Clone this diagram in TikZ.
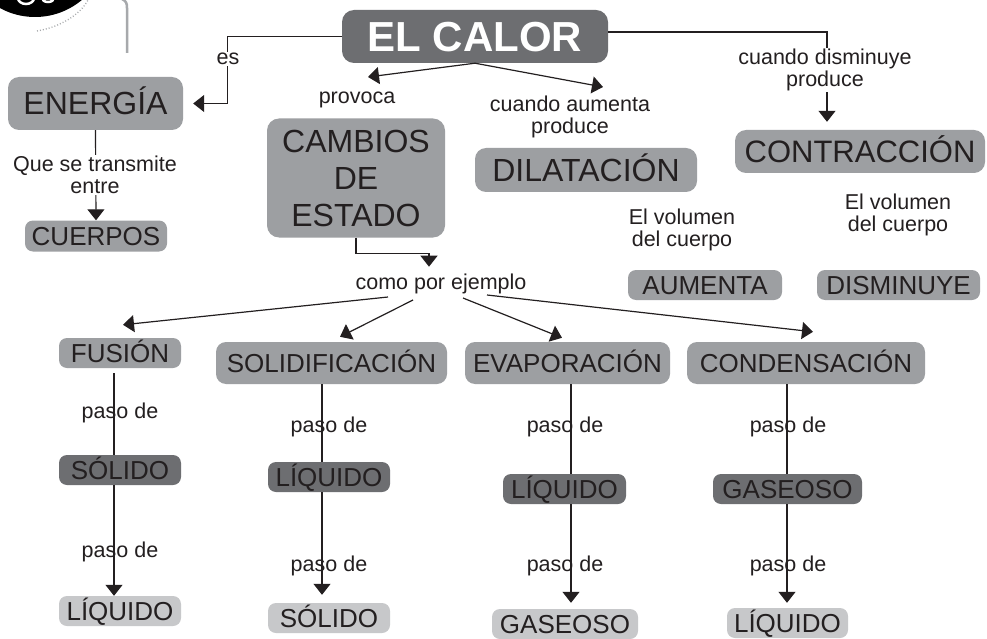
\documentclass[tikz,border=0pt]{standalone}
\usepackage{fontspec}
\setmainfont{Liberation Sans}
\usetikzlibrary{arrows.meta,calc}
\definecolor{ink}{HTML}{231F20}
\definecolor{midg}{HTML}{9D9FA2}
\definecolor{darkg}{HTML}{6D6E71}
\definecolor{lightg}{HTML}{C7C8CA}
\definecolor{decog}{HTML}{A7A9AC}
\begin{document}
\begin{tikzpicture}[x=1pt,y=-1pt,
  box/.style={fill=midg, rounded corners=8pt, inner sep=0pt, text=ink, align=center},
  bigbox/.style={box, rounded corners=11pt, font=\fontsize{32}{37}\selectfont, text height=23pt, text depth=0pt},
  smallbox/.style={box, font=\fontsize{26}{30}\selectfont, text height=19pt, text depth=0pt, minimum height=30pt},
  midbox/.style={smallbox, rounded corners=10pt, minimum height=42pt},
  darkbox/.style={smallbox, fill=darkg},
  lightbox/.style={smallbox, fill=lightg},
  conn/.style={draw=ink, line width=1.2pt},
  arr/.style={conn, -{Triangle[length=11pt,width=17pt]}},
  lab/.style={text=ink, font=\fontsize{21.5}{22}\selectfont, align=center, inner sep=1pt},
  wlab/.style={lab, fill=white}
]
\useasboundingbox (0,0) rectangle (987,639);
\fill[white] (0,0) rectangle (987,639);

% decoration in the top-left corner
\begin{scope}
  \clip (0,0) rectangle (987,639);
  \fill[black] (35,-56) circle (73);
  \draw[white, line width=2.5pt] (26,-2) ellipse (8 and 6);
  \draw[white, line width=2.5pt] (48,-2) ellipse (6 and 4);
  \draw[decog, line width=1.3pt, dash pattern=on 1pt off 2pt] (37,31) .. controls (60,27) and (80,15) .. (88,0);
  \draw[decog, line width=2.5pt] (122,-1) .. controls (126,1) and (127,3) .. (127,8) -- (127,53);
\end{scope}

% main nodes
\node[box, fill=darkg, text=white, rounded corners=12pt, font=\fontsize{42}{42}\selectfont\bfseries,
      text height=30pt, text depth=0pt, minimum width=266pt, minimum height=53pt] (calor) at (475,36.5) {EL CALOR};
\node[bigbox, minimum width=175pt, minimum height=53pt] (energia) at (95.5,103.5) {ENERGÍA};
\node[smallbox, minimum width=142pt, minimum height=31pt] (cuerpos) at (96,236) {CUERPOS};
\node[box, rounded corners=12pt, font=\fontsize{32}{37}\selectfont, minimum width=178pt, minimum height=119pt] (cambios) at (356,178) {CAMBIOS\\DE\\ESTADO};
\node[bigbox, minimum width=222pt, minimum height=44pt] (dilat) at (586,170) {DILATACIÓN};
\node[bigbox, font=\fontsize{31}{36}\selectfont, minimum width=250pt, minimum height=43pt] (contr) at (860,151.5) {CONTRACCIÓN};
\node[smallbox, minimum width=154pt] (aumenta) at (705,285) {AUMENTA};
\node[smallbox, minimum width=163pt] (dismin) at (898.5,285) {DISMINUYE};

% second level
\node[smallbox, minimum width=122pt] (fus) at (120,353) {FUSIÓN};
\node[midbox, minimum width=231pt] (solid) at (331.5,363) {SOLIDIFICACIÓN};
\node[midbox, minimum width=205pt] (evap) at (567.5,363) {EVAPORACIÓN};
\node[midbox, minimum width=238pt] (cond) at (806,363) {CONDENSACIÓN};

\node[darkbox, minimum width=122pt] (solA) at (120,470) {SÓLIDO};
\node[lightbox, minimum width=122pt] (liqA) at (120,611) {LÍQUIDO};
\node[darkbox, minimum width=122pt] (liqB) at (329,477) {LÍQUIDO};
\node[lightbox, minimum width=122pt] (solB) at (329,618) {SÓLIDO};
\node[darkbox, minimum width=123pt] (liqC) at (564.5,489) {LÍQUIDO};
\node[lightbox, minimum width=146pt] (gasC) at (565,624) {GASEOSO};
\node[darkbox, minimum width=149pt] (gasD) at (787.5,489) {GASEOSO};
\node[lightbox, minimum width=121pt] (liqD) at (787.5,623) {LÍQUIDO};

% coordinates for columns and arrow ends
\coordinate (colA) at (114,0);
\coordinate (colB) at (322,0);
\coordinate (colC) at (571,0);
\coordinate (colD) at (787,0);
\coordinate (tprov) at (368,77);
\coordinate (tdil) at (603,87);

% top connectors
\draw[arr, shorten >=10pt] (calor.west) -- ++(-114,0) |- (energia.east);
\node[wlab] (es) at (228,59) {es};
\draw[arr] (energia.south) -- (cuerpos.north);
\node[wlab] (transm) at (95,175) {Que se transmite\\entre};
\draw[arr] (calor.south) -- (tprov);
\draw[arr] (calor.south) -- (tdil);
\node[lab] (provoca) at (357,100) {provoca};
\node[lab] (aumlab) at (570,116.5) {cuando aumenta\\produce};
\draw[arr, shorten >=8pt] ([yshift=4.5pt]calor.east) -| ([xshift=-33pt]contr.north);
\node[wlab] (dislab) at (825,70) {cuando disminuye\\produce};
\node[lab] (vol1) at (682,229.5) {El volumen\\del cuerpo};
\node[lab] (vol2) at (898,215) {El volumen\\del cuerpo};

% cambios de estado
\draw[arr] (cambios.south) |- ++(73,16) -- ++(0,13);
\node[lab] (como) at (441,284) {como por ejemplo};
\draw[arr] ($(como)+(-53,13)$) -- ($(fus.north)+(3,-13)$);
\draw[arr] ($(como)+(-28,16)$) -- ($(solid.north)+(8.5,-5)$);
\draw[arr] ($(como)+(22,14)$) -- ($(evap.north)+(-5.5,-4)$);
\draw[arr] ($(como)+(46,11)$) -- ($(cond.north)+(7,-10)$);

% columns
\draw[conn, shorten <=5pt] (fus.south -| colA) -- (solA.north -| colA);
\draw[arr] (solA.south -| colA) -- (liqA.north -| colA);
\node[lab] (pA1) at (120,413) {paso de};
\node[lab] (pA2) at (120,552) {paso de};

\draw[conn] (solid.south -| colB) -- (liqB.north -| colB);
\draw[arr, shorten >=8pt] (liqB.south -| colB) -- (solB.north -| colB);
\node[lab] (pB1) at (329,427) {paso de};
\node[lab] (pB2) at (329,566) {paso de};

\draw[conn] (evap.south -| colC) -- (liqC.north -| colC);
\draw[arr, shorten >=6pt] (liqC.south -| colC) -- (gasC.north -| colC);
\node[lab] (pC1) at (565,427) {paso de};
\node[lab] (pC2) at (565,566) {paso de};

\draw[conn] (cond.south -| colD) -- (gasD.north -| colD);
\draw[arr, shorten >=5pt] (gasD.south -| colD) -- (liqD.north -| colD);
\node[lab] (pD1) at (788,427) {paso de};
\node[lab] (pD2) at (788,566) {paso de};
\end{tikzpicture}
\end{document}
